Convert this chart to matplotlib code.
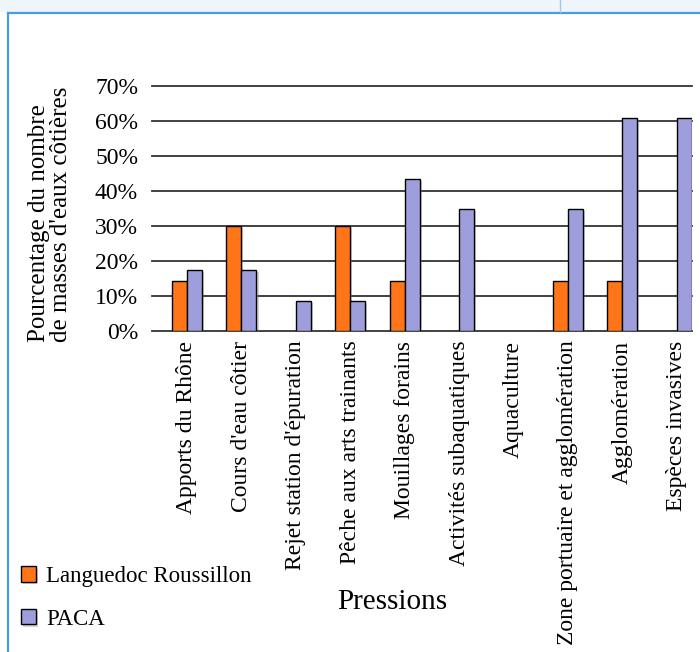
import matplotlib
matplotlib.use("Agg")
import matplotlib.pyplot as plt
import matplotlib.patheffects as pe
from matplotlib.patches import Rectangle
from matplotlib.lines import Line2D
import numpy as np

plt.rcParams["font.family"] = ["Liberation Serif", "DejaVu Serif"]

categories = [
    "Apports du Rhône",
    "Cours d'eau côtier",
    "Rejet station d'épuration",
    "Pêche aux arts trainants",
    "Mouillages forains",
    "Activités subaquatiques",
    "Aquaculture",
    "Zone portuaire et agglomération",
    "Agglomération",
    "Espèces invasives",
]
languedoc = [14.3, 30.0, 0, 30.0, 14.3, 0, 0, 14.3, 14.3, 0]
paca = [17.4, 17.4, 8.7, 8.7, 43.5, 34.8, 0, 34.8, 60.9, 60.9]
yticks = [0, 10, 20, 30, 40, 50, 60, 70]
series_names = ["Languedoc Roussillon", "PACA"]
colors = ["#FF7518", "#9E9EDC"]

W, H = 700, 652
fig = plt.figure(figsize=(7, 6.52), dpi=100)

# page frame (blue border of the surrounding document)
fig.patches.append(Rectangle((0, 1 - 12 / H), 1, 12 / H, transform=fig.transFigure,
                             facecolor="#eef6fb", edgecolor="none", zorder=0))
fig.lines.append(Line2D([8 / W, 1], [1 - 13 / H, 1 - 13 / H], transform=fig.transFigure,
                        color="#4a9be0", lw=1.6))
fig.lines.append(Line2D([8 / W, 8 / W], [0, 1 - 13 / H], transform=fig.transFigure,
                        color="#4a9be0", lw=1.6))
fig.lines.append(Line2D([560 / W, 560 / W], [1 - 12 / H, 1], transform=fig.transFigure,
                        color="#9cc8ec", lw=1.0))

ax = fig.add_axes([152 / W, 1 - 331 / H, 540 / W, 245 / H])

x = np.arange(len(categories))
w = 0.276
shadow = [pe.SimplePatchShadow(offset=(1.5, -1.5), shadow_rgbFace="0.5", alpha=0.35), pe.Normal()]
b1 = ax.bar(x - w / 2, languedoc, w, color=colors[0], edgecolor="black", linewidth=1.0, zorder=3)
b2 = ax.bar(x + w / 2, paca, w, color=colors[1], edgecolor="black", linewidth=1.0, zorder=3)
for bar in list(b1) + list(b2):
    if bar.get_height() > 0:
        bar.set_path_effects(shadow)
    else:
        bar.set_visible(False)

for yv in yticks:
    ax.axhline(yv, color="#333333", lw=1.3, zorder=1, clip_on=False)

ax.set_xlim(-0.643, 9.28)
ax.set_ylim(0, 70)
ax.set_yticks(yticks)
ax.set_yticklabels([f"{v}%" for v in yticks], fontsize=17)
ax.set_xticks(x)
ax.set_xticklabels(categories, rotation=90, fontsize=17, va="top", ha="center")
ax.tick_params(axis="both", length=0)
ax.tick_params(axis="y", pad=10)
ax.tick_params(axis="x", pad=7)
for s in ax.spines.values():
    s.set_visible(False)

fig.text(50 / W, 1 - 342 / H, "Pourcentage du nombre\nde masses d'eaux côtières",
         rotation=90, ha="center", va="bottom", multialignment="left",
         fontsize=18, linespacing=1.0)
fig.text(392 / W, 1 - 602 / H, "Pressions", ha="center", va="center", fontsize=21)

fig.legend([b1[0], b2[0]], series_names, loc="center left",
           bbox_to_anchor=(21 / W, 1 - 598 / H), frameon=False, fontsize=16.5,
           handlelength=0.65, handleheight=0.65, handletextpad=0.45,
           labelspacing=0.95, borderaxespad=0, borderpad=0)

fig.savefig("out.png", dpi=100)
